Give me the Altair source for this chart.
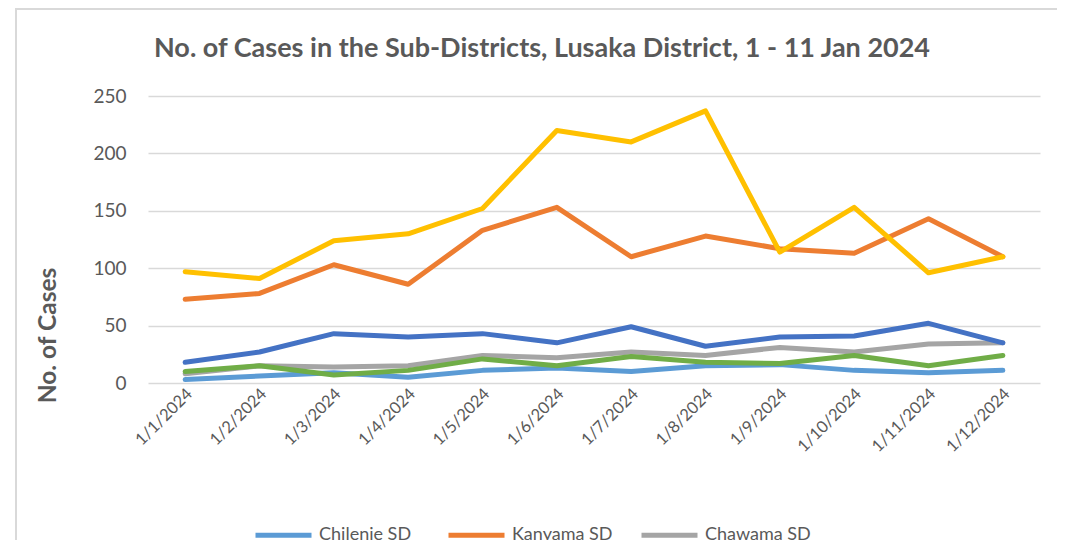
import altair as alt
import pandas as pd

dates = ["1/1/2024", "1/2/2024", "1/3/2024", "1/4/2024", "1/5/2024", "1/6/2024",
         "1/7/2024", "1/8/2024", "1/9/2024", "1/10/2024", "1/11/2024", "1/12/2024"]
series = ["Chilenje SD", "Kanyama SD", "Chawama SD", "Matero SD", "Chipata SD", "Chelstone SD"]
colors = ["#5B9BD5", "#ED7D31", "#A5A5A5", "#FFC000", "#4472C4", "#70AD47"]

chilenje = [3, 6, 9, 5, 11, 13, 10, 15, 16, 11, 9, 11]
kanyama = [73, 78, 103, 86, 133, 153, 110, 128, 117, 113, 143, 110]
chawama = [8, 15, 14, 15, 24, 22, 27, 24, 31, 27, 34, 35]
matero = [97, 91, 124, 130, 152, 220, 210, 237, 114, 153, 96, 110]
chipata = [18, 27, 43, 40, 43, 35, 49, 32, 40, 41, 52, 35]
chelstone = [10, 15, 7, 11, 21, 15, 23, 18, 17, 24, 15, 24]

y_ticks = [0, 50, 100, 150, 200, 250]
title_text = "No. of Cases in the Sub-Districts, Lusaka District, 1 - 11 Jan 2024"
y_title = "No. of Cases"

values = [chilenje, kanyama, chawama, matero, chipata, chelstone]
rows = []
for s, vals in zip(series, values):
    for d, v in zip(dates, vals):
        rows.append({"date": d, "series": s, "cases": v})
df = pd.DataFrame(rows)

TXT = "#595959"
FONT = "Lato"

lines = alt.Chart(df).mark_line(strokeWidth=5, strokeCap="round", strokeJoin="round").encode(
    x=alt.X("date:N", sort=dates, scale=alt.Scale(type="point", padding=0.5),
            axis=alt.Axis(title=None, labelAngle=-45, labelAlign="right", labelBaseline="middle",
                          labelFont=FONT, labelFontSize=16.5, labelColor=TXT, labelPadding=8,
                          labelOffset=4, ticks=False, domain=False, grid=False, labelOverlap=False)),
    y=alt.Y("cases:Q", scale=alt.Scale(domain=[0, 250], nice=False),
            axis=alt.Axis(values=y_ticks, title=y_title, grid=True, gridColor="#D9D9D9", gridWidth=1.5,
                          domain=False, ticks=False, labelPadding=22, labelFont=FONT,
                          labelFontSize=19, labelColor=TXT, titleFont=FONT, titleFontSize=24.5,
                          titleFontWeight="bold", titleColor=TXT, titleX=-100, titleY=239,
                          titleAngle=270, titleAlign="center", titleBaseline="middle")),
    color=alt.Color("series:N", sort=series, scale=alt.Scale(domain=series, range=colors),
                    legend=alt.Legend(title=None, orient="none", legendX=105, legendY=408.5,
                                      direction="horizontal", columns=3, gridAlign="all",
                                      symbolType="stroke", symbolSize=3136, symbolStrokeWidth=5,
                                      labelFont=FONT, labelFontSize=18, labelColor=TXT,
                                      labelOffset=5, columnPadding=11, labelLimit=125, padding=0)),
)

one = pd.DataFrame({"t": [title_text]})
title = alt.Chart(one).mark_text(font=FONT, fontSize=27, fontWeight="bold", color=TXT,
                                 align="center", baseline="middle").encode(
    text="t:N", x=alt.value(394), y=alt.value(-47))

frame_left = alt.Chart(one).mark_rect(color="#D9D9D9", strokeWidth=0).encode(
    x=alt.value(-133), x2=alt.value(-131), y=alt.value(-88), y2=alt.value(450))
frame_top = alt.Chart(one).mark_rect(color="#D9D9D9", strokeWidth=0).encode(
    x=alt.value(-133), x2=alt.value(909), y=alt.value(-88), y2=alt.value(-86))

chart = alt.layer(frame_left, frame_top, title, lines).properties(
    width=892, height=287,
    autosize=alt.AutoSizeParams(type="none"),
    padding={"left": 140, "top": 88, "right": 17, "bottom": 157},
).configure_view(stroke=None)

chart.save("out.html", embed_options={"renderer": "svg", "actions": False})
